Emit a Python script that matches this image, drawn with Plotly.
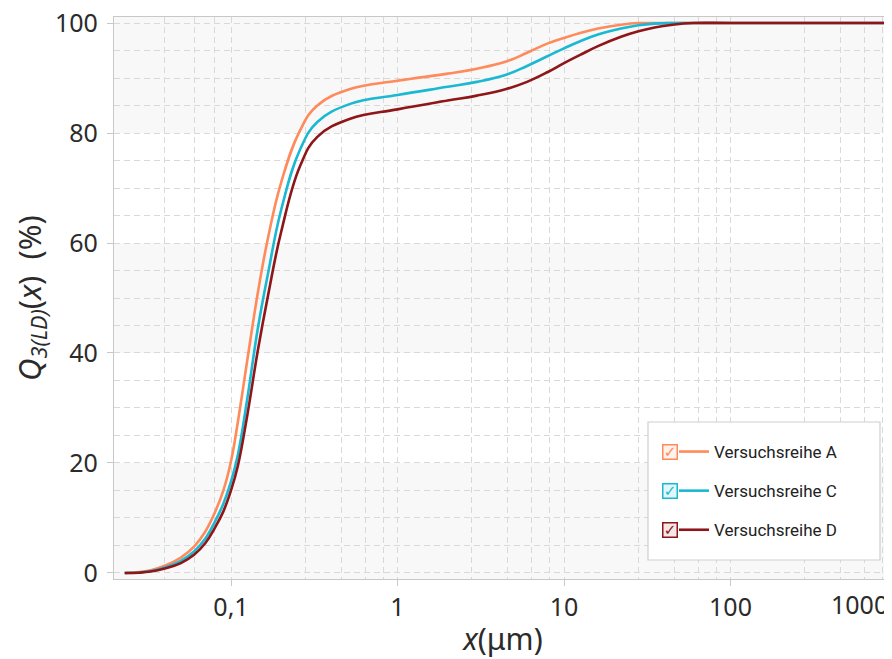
import plotly.graph_objects as go

# ---------------- data ----------------
x_um = [0.023, 0.028, 0.033, 0.04, 0.05, 0.06, 0.07, 0.08, 0.09, 0.1,
        0.11, 0.125, 0.145, 0.167, 0.2, 0.26, 0.33, 0.52, 1.0, 2.0,
        3.0, 4.5, 6.0, 8.0, 10, 12.5, 16, 22, 28, 35,
        45, 60, 100, 1000, 2000]

q3_A = [0, 0.15, 0.5, 1.3, 2.8, 4.8, 7.5, 11, 15, 20.3,
        27.5, 38.5, 51, 61, 71, 80.5, 85, 88, 89.5, 90.8,
        91.7, 93.0, 94.6, 96.3, 97.3, 98.2, 99.0, 99.7, 100, 100,
        100, 100, 100, 100, 100]

q3_C = [0, 0.08, 0.35, 1.0, 2.2, 3.9, 6.2, 9.3, 12.6, 16.6,
        21.5, 31.5, 44.5, 54.5, 66, 77, 82, 85.3, 86.9, 88.4,
        89.3, 90.6, 92.2, 94.0, 95.4, 96.7, 97.9, 99.0, 99.6, 99.9,
        100, 100, 100, 100, 100]

q3_D = [0, 0.05, 0.25, 0.8, 1.8, 3.3, 5.4, 8.2, 11.2, 15.0,
        19.5, 28.5, 40.5, 50.5, 62, 74, 79.3, 82.6, 84.3, 85.9,
        86.8, 88.0, 89.3, 91.1, 92.7, 94.2, 95.8, 97.5, 98.5, 99.2,
        99.7, 100, 100, 100, 100]

series_names = ["Versuchsreihe A", "Versuchsreihe C", "Versuchsreihe D"]
series_values = [q3_A, q3_C, q3_D]
series_colors = ["#FF8A5B", "#1BB8D1", "#8E1518"]
series_tints = ["rgba(255,138,91,0.12)", "rgba(27,184,209,0.12)", "rgba(142,21,24,0.10)"]

x_tick_vals = [0.1, 1, 10, 100, 1000]
x_tick_text = ["0,1", "1", "10", "100", "1000"]
x_minor_vals = [0.04, 0.06, 0.08,
                0.28, 0.46, 0.64, 0.82,
                2.8, 4.6, 6.4, 8.2,
                28, 46, 64, 82,
                280, 460, 640, 820]
y_tick_vals = [0, 20, 40, 60, 80, 100]
y_tick_text = ["0", "20", "40", "60", "80", "100"]

# ---------------- layout geometry ----------------
# the page body has an 8px margin, so the figure starts at (8, 8)
OFF = 8
W, H = 892 - OFF, 659 - OFF
L, R, T, B = 114 - OFF, 0, 17 - OFF, 80
PW, PH = W - L - R, H - T - B
X_RANGE = [-1.7027, 2.970]
Y_RANGE = [-1.1, 101.1]


def px_x(p):  # page pixel -> paper x
    return (p - OFF - L) / PW


def px_y(p):  # page pixel -> paper y
    return (H - B - (p - OFF)) / PH


TICK_FONT = dict(family="Noto Sans, sans-serif", size=25, color="#2b2b2b")
GRID = "#d9d9d9"
DASH = "6px,4px"

fig = go.Figure()
for i, (name, vals, col) in enumerate(zip(series_names, series_values, series_colors)):
    fig.add_trace(go.Scatter(
        x=x_um, y=vals, name=name, mode="lines",
        line=dict(color=col, width=2.6, shape="spline", smoothing=1.2),
        legendgroup=f"g{i}", showlegend=True, cliponaxis=True,
    ))

shapes = []
# alternating split areas
bands = list(zip([Y_RANGE[0]] + y_tick_vals[1:-1], y_tick_vals[1:-1] + [Y_RANGE[1]]))
for k, (y0, y1) in enumerate(bands):
    if k % 2 == 0:
        shapes.append(dict(type="rect", xref="paper", yref="y", x0=0, x1=1, y0=y0, y1=y1,
                           fillcolor="#f8f8f8", line=dict(width=0), layer="below"))
# legend box
shapes.append(dict(type="rect", xref="paper", yref="paper",
                   x0=px_x(648), x1=px_x(880), y0=px_y(560), y1=px_y(422),
                   fillcolor="white", line=dict(color="#cfcfcf", width=1.2), layer="above"))

annotations = [
    dict(text=x_tick_text[-1], xref="paper", yref="paper", x=1.0, xshift=-2, y=px_y(604),
         xanchor="right", yanchor="middle", showarrow=False, font=TICK_FONT),
]
row_y = [452, 491, 530]
for col, tint, ry in zip(series_colors, series_tints, row_y):
    annotations.append(dict(text="<b>✓</b>", xref="paper", yref="paper", x=px_x(670), y=px_y(ry),
                            xanchor="center", yanchor="middle", showarrow=False,
                            width=13, height=13, align="center", valign="middle",
                            bordercolor=col, borderwidth=1.5, borderpad=0, bgcolor=tint,
                            font=dict(family="DejaVu Sans", size=15, color=col)))

fig.update_layout(
    width=W, height=H,
    margin=dict(l=L, r=R, t=T, b=B, autoexpand=False),
    paper_bgcolor="white", plot_bgcolor="white",
    shapes=shapes, annotations=annotations,
    showlegend=True,
    legend=dict(x=px_x(674), y=px_y(434), xanchor="left", yanchor="top",
                bgcolor="rgba(0,0,0,0)", borderwidth=0,
                font=dict(family="Roboto, sans-serif", size=17, color="#222"),
                tracegroupgap=14, itemwidth=30),
    xaxis=dict(
        type="log", range=X_RANGE,
        tickvals=x_tick_vals, ticktext=x_tick_text,
        ticks="outside", ticklen=6, tickcolor="#c8c8c8",
        tickfont=TICK_FONT, ticklabeloverflow="allow",
        showgrid=True, gridcolor=GRID, griddash=DASH, gridwidth=1,
        minor=dict(tickvals=x_minor_vals, showgrid=True, gridcolor=GRID,
                   griddash=DASH, gridwidth=1, ticks=""),
        showline=True, linecolor="#c8c8c8", linewidth=1.2, mirror=True,
        zeroline=False,
        title=dict(text="<i>x</i>(μm)", font=dict(family="Noto Sans, sans-serif", size=30, color="#2b2b2b"),
                   standoff=13),
        automargin=False,
    ),
    yaxis=dict(
        range=Y_RANGE,
        tickvals=y_tick_vals, ticktext=y_tick_text,
        ticks="outside", ticklen=6, tickcolor="#c8c8c8",
        tickfont=TICK_FONT, ticklabelstandoff=4, ticklabeloverflow="allow",
        showgrid=True, gridcolor=GRID, griddash=DASH, gridwidth=1,
        minor=dict(dtick=5, tick0=0, showgrid=True, gridcolor=GRID,
                   griddash=DASH, gridwidth=1, ticks=""),
        showline=True, linecolor="#c8c8c8", linewidth=1.2, mirror=False,
        zeroline=False,
        title=dict(text="<i>Q</i><sub><i>3(LD)</i></sub>(<i>x</i>)\u00a0\u00a0(%)",
                   font=dict(family="Noto Sans, sans-serif", size=31, color="#2b2b2b"),
                   standoff=9),
        automargin=False,
    ),
)

fig.write_html("out.html")
